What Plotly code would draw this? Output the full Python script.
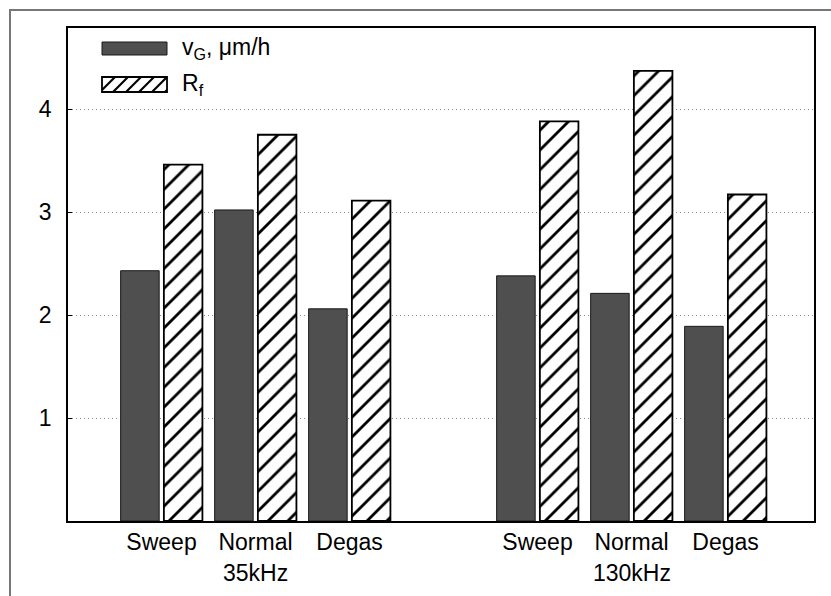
import plotly.graph_objects as go

# ---- data ----
categories = ["Sweep", "Normal", "Degas", "Sweep", "Normal", "Degas"]
positions = [0, 1, 2, 4, 5, 6]
freq_labels = ["35kHz", "130kHz"]
freq_positions = [1, 5]
vg_values = [2.43, 3.02, 2.06, 2.38, 2.21, 1.89]   # v_G, um/h
rf_values = [3.46, 3.75, 3.11, 3.88, 4.37, 3.17]   # R_f
y_ticks = [1, 2, 3, 4]

# ---- geometry (pixels) ----
W, H = 831, 596
L, R, T, B = 68, 814, 28, 521          # plot-area box
FONT = "Liberation Sans, Arial, Helvetica, sans-serif"
FS = 23
DARK = "#4f4f4f"


def px_x(px):
    return (px - L) / (R - L)


def px_y(py):
    return (B - py) / (B - T)


fig = go.Figure()

fig.add_trace(go.Bar(
    x=positions, y=vg_values, width=0.41, offset=-0.435,
    marker=dict(color=DARK, line=dict(color="#1a1a1a", width=1)),
    showlegend=False,
))
fig.add_trace(go.Bar(
    x=positions, y=rf_values, width=0.41, offset=0.025,
    marker=dict(color="white", line=dict(color="black", width=1.8),
                pattern=dict(shape="/", size=14, solidity=0.2,
                             fgcolor="#000000", fgopacity=1,
                             bgcolor="white", fillmode="replace")),
    showlegend=False,
))

shapes = []
# outer frame (left and top edges only visible)
shapes.append(dict(type="rect", xref="paper", yref="paper",
                   x0=px_x(10), x1=1.3, y0=-0.4, y1=px_y(10),
                   line=dict(color="#777777", width=2), layer="below"))

# legend swatches
lx0, lx1 = 102, 167
shapes.append(dict(type="rect", xref="paper", yref="paper",
                   x0=px_x(lx0), x1=px_x(lx1), y0=px_y(55), y1=px_y(42),
                   fillcolor=DARK, line=dict(color="#1a1a1a", width=1)))
hy0, hy1 = 92, 77
shapes.append(dict(type="rect", xref="paper", yref="paper",
                   x0=px_x(lx0), x1=px_x(lx1), y0=px_y(hy0), y1=px_y(hy1),
                   fillcolor="white", line=dict(color="black", width=1.8)))
# diagonal hatch inside the R_f swatch, clipped to its box
h = hy0 - hy1
step = 13
start = lx0 - h
k = 0
while start + k * step < lx1:
    xa = start + k * step          # bottom-left end
    xb = xa + h                    # top-right end
    ya, yb = hy0, hy1
    if xa < lx0:
        ya = hy0 - (lx0 - xa)
        xa = lx0
    if xb > lx1:
        yb = hy1 + (xb - lx1)
        xb = lx1
    if xb > xa:
        shapes.append(dict(type="line", xref="paper", yref="paper",
                           x0=px_x(xa), y0=px_y(ya), x1=px_x(xb), y1=px_y(yb),
                           line=dict(color="black", width=2.2)))
    k += 1

annotations = [
    dict(xref="paper", yref="paper", x=px_x(180), y=px_y(48),
         xanchor="left", yanchor="middle", showarrow=False,
         text="v<sub>G</sub>, \u03bcm/h", font=dict(family=FONT, size=FS, color="black")),
    dict(xref="paper", yref="paper", x=px_x(180), y=px_y(84),
         xanchor="left", yanchor="middle", showarrow=False,
         text="R<sub>f</sub>", font=dict(family=FONT, size=FS, color="black")),
]
for lab, xp in zip(freq_labels, freq_positions):
    annotations.append(dict(xref="x", yref="paper", x=xp, y=px_y(573),
                            xanchor="center", yanchor="middle", showarrow=False,
                            text=lab, font=dict(family=FONT, size=FS, color="black")))

x_lo = -0.995
x_hi = x_lo + (R - L) / 94.0

fig.update_layout(
    width=W, height=H,
    margin=dict(l=L, r=W - R, t=T, b=H - B, pad=0),
    paper_bgcolor="white", plot_bgcolor="white",
    barmode="group",
    shapes=shapes, annotations=annotations,
    font=dict(family=FONT, size=FS, color="black"),
    xaxis=dict(range=[x_lo, x_hi], tickvals=positions, ticktext=categories,
               showgrid=False, zeroline=False, ticks="",
               showline=True, linecolor="black", linewidth=1.5, mirror=True,
               tickfont=dict(family=FONT, size=FS, color="black"),
               ticklabelstandoff=0),
    yaxis=dict(range=[0, (B - T) / 103.0], tickvals=y_ticks,
               showgrid=True, gridcolor="#8a8a8a", griddash="1px,3px", gridwidth=1.2,
               zeroline=False, ticks="inside", ticklen=4, tickcolor="black",
               showline=True, linecolor="black", linewidth=1.5, mirror=True,
               tickfont=dict(family=FONT, size=FS, color="black"),
               ticklabelstandoff=10),
)

fig.write_html("out.html")
